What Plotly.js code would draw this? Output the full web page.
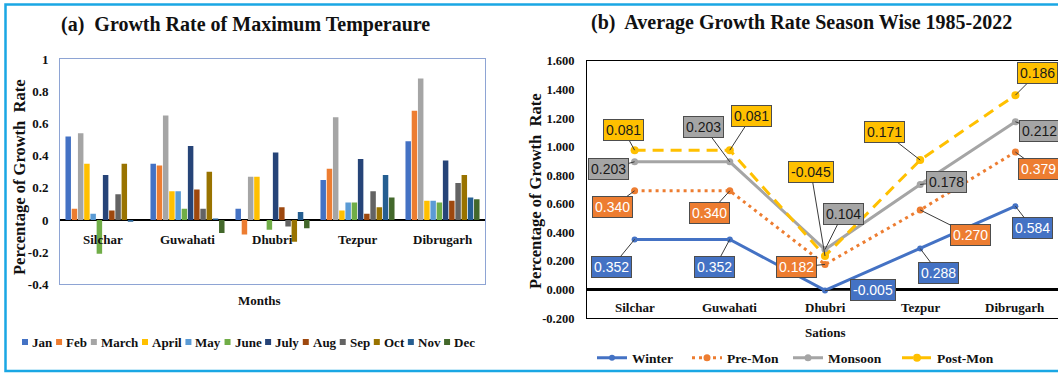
<!DOCTYPE html>
<html>
<head>
<meta charset="utf-8">
<script src="https://cdn.plot.ly/plotly-3.0.1.min.js"></script>
<style>
  html, body { margin: 0; padding: 0; overflow: hidden; background: #fff; width: 1058px; height: 374px; }
  #chart { width: 1070px; height: 374px; }
</style>
</head>
<body>
<div id="chart"></div>
<script>
// ---- data ----
const stations = ['Silchar', 'Guwahati', 'Dhubri', 'Tezpur', 'Dibrugarh'];
const months = ['Jan', 'Feb', 'March', 'April', 'May', 'June', 'July', 'Aug', 'Sep', 'Oct', 'Nov', 'Dec'];

// growth rate of maximum temperature per month, ordered as `stations`
const jan = [0.52, 0.35, 0.07, 0.25, 0.49];
const feb = [0.07, 0.34, -0.09, 0.32, 0.68];
const mar = [0.54, 0.65, 0.27, 0.64, 0.88];
const apr = [0.35, 0.18, 0.27, 0.06, 0.12];
const may = [0.04, 0.18, 0.00, 0.11, 0.12];
const jun = [-0.21, 0.07, -0.06, 0.11, 0.11];
const jul = [0.28, 0.46, 0.42, 0.38, 0.37];
const aug = [0.06, 0.19, 0.08, 0.04, 0.12];
const sep = [0.16, 0.07, -0.04, 0.18, 0.23];
const oct = [0.35, 0.30, -0.135, 0.08, 0.28];
const nov = [-0.01, 0.01, 0.05, 0.28, 0.14];
const dec = [0.00, -0.08, -0.05, 0.14, 0.13];

// season-wise average growth rate 1985-2022 (stacked in the line chart)
const seasons = ['Winter', 'Pre-Mon', 'Monsoon', 'Post-Mon'];
const winter = [0.352, 0.352, -0.005, 0.288, 0.584];
const preMon = [0.340, 0.340, 0.182, 0.270, 0.379];
const monsoon = [0.203, 0.203, 0.104, 0.178, 0.212];
const postMon = [0.081, 0.081, -0.045, 0.171, 0.186];

// axis tick values
const leftTicks = [-0.4, -0.2, 0, 0.2, 0.4, 0.6, 0.8, 1];
const rightTicks = [-0.2, 0, 0.2, 0.4, 0.6, 0.8, 1.0, 1.2, 1.4, 1.6];

// ---- styling ----
const W = 1070, H = 374;
const px = x => x / W;
const py = y => 1 - y / H;
const SERIF = '"Liberation Serif", "Times New Roman", serif';
const NARROW = '"Liberation Sans Narrow", "Arial Narrow", "Liberation Sans", Arial, sans-serif';
const INK = '#111111';

const monthValues = [jan, feb, mar, apr, may, jun, jul, aug, sep, oct, nov, dec];
const monthColors = ['#4472C4', '#ED7D31', '#A5A5A5', '#FFC000', '#5B9BD5', '#70AD47',
                     '#264478', '#9E480E', '#636363', '#997300', '#255E91', '#43682B'];

const seasonValues = [winter, preMon, monsoon, postMon];
const seasonColors = ['#4472C4', '#ED7D31', '#A5A5A5', '#FFC000'];
const seasonDash = ['solid', '3px,4px', 'solid', '11px,7px'];
const seasonMarker = [6, 7, 7, 8];
const seasonLabelInk = ['#FFFFFF', '#FFFFFF', '#1A1A1A', '#1A1A1A'];
const seasonLegendWidth = [50, 56, 64, 60];
// pixel offset of every value box from its point [ax, ay]
const boxOffsets = [
  [[-23, 28], [-15, 28], [48, 0], [18, 24], [17, 22]],
  [[-22, 16], [-20, 22], [-29, 3], [50, 25], [23, 17]],
  [[-26, 7], [-26, -35], [18, -36], [26, -3], [24, 9]],
  [[-11, -20], [22, -34], [-14, -84], [-36, -28], [22, -22]]
];

const traces = [];

// (a) grouped bars
months.forEach((m, k) => {
  traces.push({
    type: 'bar', name: m, x: stations, y: monthValues[k],
    xaxis: 'x', yaxis: 'y',
    marker: { color: monthColors[k] },
    showlegend: false, hoverinfo: 'name+y'
  });
});

// (b) stacked season lines
seasons.forEach((s, k) => {
  traces.push({
    type: 'scatter', name: s, x: stations, y: seasonValues[k],
    xaxis: 'x2', yaxis: 'y2',
    stackgroup: 'season', fill: 'none', mode: 'lines+markers',
    line: { color: seasonColors[k], width: 3, dash: seasonDash[k] },
    marker: { color: seasonColors[k], size: seasonMarker[k] },
    legend: 'legend2', legendwidth: seasonLegendWidth[k]
  });
});

const annotations = [];
const shapes = [];

function paperText(x, y, text, font, extra) {
  annotations.push(Object.assign({
    xref: 'paper', yref: 'paper', x: px(x), y: py(y),
    xanchor: 'center', yanchor: 'middle', showarrow: false, text: text, font: font
  }, extra || {}));
}

// panel titles
const titleFont = { family: SERIF, size: 20, weight: 'bold', color: INK };
paperText(245, 24, '(a)  Growth Rate of Maximum Temperaure', titleFont);
paperText(801, 22, '(b)  Average Growth Rate Season Wise 1985-2022', titleFont);

// axis titles
const vTitleFont = { family: SERIF, size: 16.5, weight: 'bold', color: INK };
const axisFont = { family: SERIF, size: 13, weight: 'bold', color: INK };
paperText(19, 177, 'Percentage of Growth  Rate', vTitleFont, { textangle: -90 });
paperText(535, 191, 'Percentage of Growth  Rate', vTitleFont, { textangle: -90 });
paperText(259, 300, 'Months', axisFont);
paperText(825, 332, 'Sations', axisFont);

// category labels sitting on the zero line
stations.forEach(s => {
  annotations.push({ xref: 'x', yref: 'y', x: s, y: 0, yshift: -19, showarrow: false,
    text: s, font: axisFont });
  annotations.push({ xref: 'x2', yref: 'y2', x: s, y: 0, yshift: -18, showarrow: false,
    text: s, font: axisFont });
});

// value boxes on the stacked lines
const running = stations.map(() => 0);
seasonValues.forEach((vals, k) => {
  vals.forEach((v, i) => {
    running[i] += v;
    annotations.push({
      xref: 'x2', yref: 'y2', x: stations[i], y: running[i],
      ax: boxOffsets[k][i][0], ay: boxOffsets[k][i][1],
      text: v.toFixed(3), showarrow: true, arrowhead: 0, arrowwidth: 1,
      arrowcolor: '#3A3A3A', standoff: 0,
      bgcolor: seasonColors[k], bordercolor: '#4D4D4D', borderwidth: 1, borderpad: 2,
      font: { family: NARROW, size: 14, color: seasonLabelInk[k] }
    });
  });
});

// month key for the bar panel
const keyFont = 'bold 13px "Liberation Serif"';
const ctx = document.createElement('canvas').getContext('2d');
ctx.font = keyFont;
const keyWidths = months.map(m => ctx.measureText(m).width);
const keyLeft = 22, keyRight = 473, keyY = 342, sq = 6, sqGap = 2;
const used = keyWidths.reduce((a, w) => a + sq + sqGap + w, 0);
const keyGap = (keyRight - keyLeft - used) / (months.length - 1);
let cx = keyLeft;
months.forEach((m, k) => {
  shapes.push({ type: 'rect', xref: 'paper', yref: 'paper',
    x0: px(cx), x1: px(cx + sq), y0: py(keyY + sq / 2), y1: py(keyY - sq / 2),
    fillcolor: monthColors[k], line: { width: 0 } });
  paperText(cx + sq + sqGap, keyY, m, { family: SERIF, size: 13, weight: 'bold', color: INK },
    { xanchor: 'left' });
  cx += sq + sqGap + keyWidths[k] + keyGap;
});

// outer frame
shapes.push({ type: 'rect', xref: 'paper', yref: 'paper',
  x0: px(5.5), x1: 1.02, y0: py(371), y1: py(4.5),
  line: { color: '#1AA7E4', width: 2.5 }, fillcolor: 'rgba(0,0,0,0)' });

const leftTickFont = { family: SERIF, size: 13, weight: 'bold', color: INK };
const rightTickFont = { family: SERIF, size: 12.5, weight: 'bold', color: INK };

const layout = {
  width: W, height: H,
  margin: { l: 0, r: 0, t: 0, b: 0 },
  paper_bgcolor: '#FFFFFF', plot_bgcolor: '#FFFFFF',
  barmode: 'group', bargap: 0.12, bargroupgap: 0.12,
  showlegend: true,
  xaxis: {
    domain: [px(60), px(485)], anchor: 'y', type: 'category',
    showticklabels: false, ticks: '', showgrid: false, zeroline: false,
    showline: true, mirror: true, linecolor: '#8EA4D4', linewidth: 1, fixedrange: true
  },
  yaxis: {
    domain: [py(284.4), py(59.3)], anchor: 'x', range: [-0.4, 1],
    tickvals: leftTicks, ticktext: leftTicks.map(v => String(v)),
    tickfont: leftTickFont, ticks: '', ticklabelstandoff: 8,
    showgrid: false, zeroline: true, zerolinecolor: '#000000', zerolinewidth: 2.5,
    showline: true, mirror: true, linecolor: '#8EA4D4', linewidth: 1, fixedrange: true
  },
  xaxis2: {
    domain: [px(587), px(1063)], anchor: 'y2', type: 'category', range: [-0.5, 4.5],
    showticklabels: false, ticks: '', showgrid: false, zeroline: false,
    showline: true, mirror: true, linecolor: '#000000', linewidth: 1, fixedrange: true
  },
  yaxis2: {
    domain: [py(318.3), py(61)], anchor: 'x2', range: [-0.2, 1.6],
    tickvals: rightTicks, ticktext: rightTicks.map(v => v.toFixed(3)),
    tickfont: rightTickFont, ticks: '', ticklabelstandoff: 9,
    showgrid: false, zeroline: true, zerolinecolor: '#000000', zerolinewidth: 2.5,
    showline: true, mirror: true, linecolor: '#000000', linewidth: 1, fixedrange: true
  },
  legend2: {
    orientation: 'h', x: px(592), y: py(358), xanchor: 'left', yanchor: 'middle',
    font: { family: SERIF, size: 13.5, weight: 'bold', color: INK },
    bgcolor: 'rgba(0,0,0,0)', traceorder: 'normal'
  },
  annotations: annotations,
  shapes: shapes
};

Plotly.newPlot('chart', traces, layout, { staticPlot: true, displayModeBar: false });
</script>
</body>
</html>
